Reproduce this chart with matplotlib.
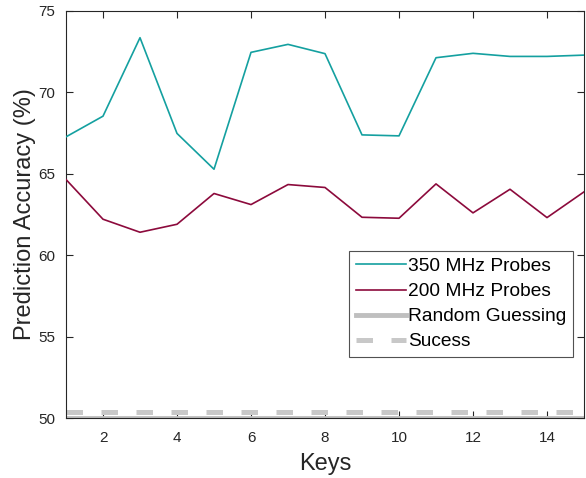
import matplotlib
matplotlib.use("Agg")
import matplotlib.pyplot as plt
import numpy as np

plt.rcParams['font.family'] = ['Liberation Sans', 'DejaVu Sans']

keys = list(range(1, 16))
acc_350 = [67.27, 68.54, 73.36, 67.48, 65.28, 72.46, 72.95, 72.38, 67.39, 67.33, 72.13, 72.40, 72.21, 72.21, 72.29]
acc_200 = [64.65, 62.21, 61.41, 61.90, 63.79, 63.11, 64.34, 64.16, 62.33, 62.27, 64.38, 62.60, 64.05, 62.31, 63.89]
random_guess = 50.0
success = 50.35

xticks = [2, 4, 6, 8, 10, 12, 14]
yticks = [50, 55, 60, 65, 70, 75]

fig = plt.figure(figsize=(5.86, 4.78), dpi=100)
ax = fig.add_axes([66/586, 60/478, (584-66)/586, (418-11)/478])

ax.plot(keys, acc_350, color='#14A0A0', lw=1.2, label='350 MHz Probes', zorder=3)
ax.plot(keys, acc_200, color='#8C0A3C', lw=1.2, label='200 MHz Probes', zorder=3)
ax.axhline(random_guess, color='#BFBFBF', lw=3.5, label='Random Guessing', zorder=2)
ax.axhline(success, color='#C8C8C8', lw=3.6, ls=(0, (3.3, 3.7)), label='Sucess', zorder=2)

ax.set_xlim(1, 15)
ax.set_ylim(50, 75)
ax.set_xticks(xticks)
ax.set_yticks(yticks)
ax.tick_params(direction='in', top=True, right=True, labelsize=11, colors='#262626', length=5, width=0.8)
ax.tick_params(axis='x', pad=9)
ax.tick_params(axis='y', pad=8)
for s in ax.spines.values():
    s.set_color('#262626')
    s.set_linewidth(0.8)

ax.set_xlabel('Keys', fontsize=17, color='#262626', labelpad=6)
ax.set_ylabel('Prediction Accuracy (%)', fontsize=17, color='#262626', labelpad=1)

leg = ax.legend(loc='upper left', bbox_to_anchor=((349-66)/518, (418-251)/407), fontsize=13.8,
                frameon=True, fancybox=False, edgecolor='#262626', handlelength=2.6,
                handletextpad=0.15, borderpad=0.35, labelspacing=0.4, borderaxespad=0)
leg.get_frame().set_linewidth(0.8)

fig.savefig('out.png', dpi=100)
